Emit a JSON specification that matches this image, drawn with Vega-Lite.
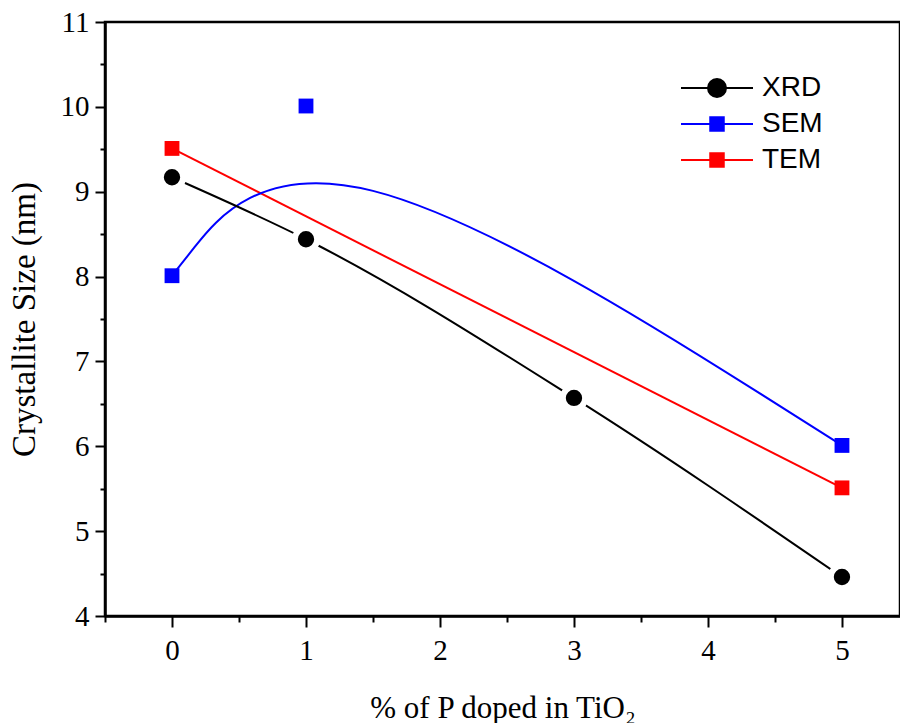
{
  "$schema": "https://vega.github.io/schema/vega-lite/v6.json",
  "width": 795,
  "height": 594,
  "autosize": {"type": "none"},
  "padding": {"left": 105, "top": 22, "right": 0, "bottom": 107},
  "background": "white",
  "config": {
    "view": {"stroke": "black", "strokeWidth": 2.5}
  },
  "data": {
    "values": [
      {"x": 0, "y": 9.17, "s": "XRD"},
      {"x": 1, "y": 8.44, "s": "XRD"},
      {"x": 3, "y": 6.57, "s": "XRD"},
      {"x": 5, "y": 4.46, "s": "XRD"},
      {"x": 0, "y": 8.01, "s": "SEM"},
      {"x": 1, "y": 10.01, "s": "SEM"},
      {"x": 5, "y": 6.01, "s": "SEM"},
      {"x": 0, "y": 9.51, "s": "TEM"},
      {"x": 5, "y": 5.51, "s": "TEM"}
    ]
  },
  "layer": [
    {
      "transform": [{"filter": "datum.s === 'TEM'"}],
      "mark": {"type": "line", "strokeWidth": 2, "interpolate": "linear"},
      "encoding": {
        "x": {"field": "x", "type": "quantitative", "scale": {"domain": [-0.5, 5.433], "nice": false, "zero": false},
          "axis": {
            "values": [-0.5, 0, 0.5, 1, 1.5, 2, 2.5, 3, 3.5, 4, 4.5, 5],
            "labelExpr": "datum.value % 1 === 0 ? format(datum.value, 'd') : ''",
            "labelOverlap": false,
            "labelBound": false,
            "tickSize": {"condition": {"test": "datum.value % 1 === 0", "value": 11}, "value": 6},
            "tickWidth": 2,
            "tickColor": "black",
            "domainColor": "black",
            "domainWidth": 2.5,
            "grid": false,
            "labelFont": "Liberation Serif",
            "labelFontSize": 29,
            "labelColor": "black",
            "labelPadding": 9,
            "labelFlush": false,
            "title": "% of P doped in TiO₂",
            "titleFont": "Liberation Serif",
            "titleFontSize": 31,
            "titleFontWeight": "normal",
            "titleColor": "black",
            "titlePadding": 28
          }},
        "y": {"field": "y", "type": "quantitative", "scale": {"domain": [4, 11], "nice": false, "zero": false},
          "axis": {
            "values": [4, 4.5, 5, 5.5, 6, 6.5, 7, 7.5, 8, 8.5, 9, 9.5, 10, 10.5, 11],
            "labelExpr": "datum.value % 1 === 0 ? format(datum.value, 'd') : ''",
            "labelOverlap": false,
            "labelBound": false,
            "tickSize": {"condition": {"test": "datum.value % 1 === 0", "value": 10}, "value": 5},
            "tickWidth": 2,
            "tickColor": "black",
            "domainColor": "black",
            "domainWidth": 2.5,
            "grid": false,
            "labelFont": "Liberation Serif",
            "labelFontSize": 29,
            "labelColor": "black",
            "labelPadding": 6,
            "labelFlush": false,
            "title": "Crystallite Size (nm)",
            "titleFont": "Liberation Serif",
            "titleFontSize": 33,
            "titleFontWeight": "normal",
            "titleColor": "black",
            "titlePadding": 19
          }},
        "color": {"field": "s", "type": "nominal",
          "scale": {"domain": ["XRD", "SEM", "TEM"], "range": ["black", "blue", "red"]},
          "legend": {
            "title": null,
            "orient": "none",
            "legendX": 598,
            "legendY": 52,
            "padding": 0,
            "rowPadding": 8,
            "symbolSize": 324,
            "symbolStrokeWidth": 2,
            "symbolOffset": 0,
            "labelOffset": 31,
            "labelFont": "Liberation Sans",
            "labelFontSize": 28,
            "labelColor": "black",
            "encode": {
              "symbols": {
                "update": {
                  "shape": {"signal": "datum.value === 'XRD' ? 'M-4,0H4M-1,0A1,1,0,1,0,1,0A1,1,0,1,0,-1,0Z' : 'M-4,0H4M-0.75,-0.75H0.75V0.75H-0.75Z'"},
                  "fill": {"signal": "datum.value === 'XRD' ? 'black' : datum.value === 'SEM' ? 'blue' : 'red'"},
                  "stroke": {"signal": "datum.value === 'XRD' ? 'black' : datum.value === 'SEM' ? 'blue' : 'red'"},
                  "opacity": {"value": 1},
                  "fillOpacity": {"value": 1}
                }
              }
            }
          }}
      }
    },
    {
      "transform": [{"filter": "datum.s === 'SEM'"}],
      "mark": {"type": "line", "strokeWidth": 2, "interpolate": "basis", "color": "blue"},
      "encoding": {
        "x": {"field": "x", "type": "quantitative"},
        "y": {"field": "y", "type": "quantitative"}
      }
    },
    {
      "transform": [{"filter": "datum.s === 'XRD'"}],
      "mark": {"type": "line", "strokeWidth": 2, "interpolate": "monotone", "color": "black"},
      "encoding": {
        "x": {"field": "x", "type": "quantitative"},
        "y": {"field": "y", "type": "quantitative"}
      }
    },
    {
      "transform": [{"filter": "datum.s === 'XRD'"}],
      "mark": {"type": "point", "shape": "circle", "filled": true, "fill": "black", "stroke": "white", "strokeWidth": 6, "size": 500, "opacity": 1},
      "encoding": {
        "x": {"field": "x", "type": "quantitative"},
        "y": {"field": "y", "type": "quantitative"}
      }
    },
    {
      "transform": [{"filter": "datum.s !== 'XRD'"}],
      "mark": {"type": "square", "size": 220, "opacity": 1},
      "encoding": {
        "x": {"field": "x", "type": "quantitative"},
        "y": {"field": "y", "type": "quantitative"},
        "fill": {"field": "s", "type": "nominal", "scale": {"domain": ["SEM", "TEM"], "range": ["blue", "red"]}, "legend": null}
      }
    }
  ]
}
